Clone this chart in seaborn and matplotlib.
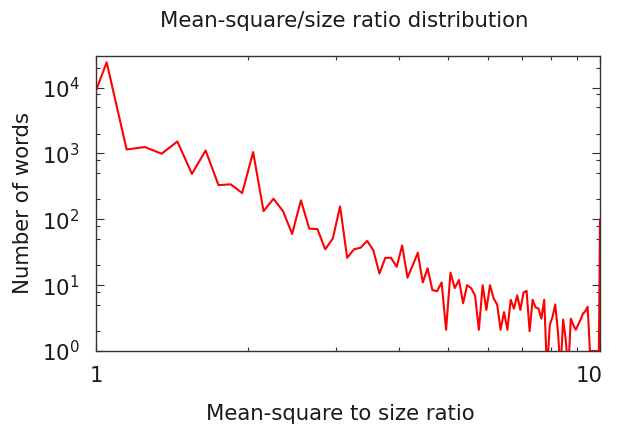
import matplotlib
matplotlib.use("Agg")
import matplotlib.pyplot as plt
import matplotlib.ticker as mticker
import matplotlib.transforms as mtransforms
import numpy as np
import pandas as pd
import seaborn as sns

# Histogram bin centres (mean-square / size ratio) and word counts per bin
ratio = [0.95, 1.05, 1.15, 1.25, 1.35, 1.45, 1.55, 1.65, 1.75, 1.85, 1.95,
         2.05, 2.15, 2.25, 2.35, 2.45, 2.55, 2.65, 2.75, 2.85, 2.95,
         3.05, 3.15, 3.25, 3.35, 3.45, 3.55, 3.65, 3.75, 3.85, 3.95,
         4.05, 4.15, 4.25, 4.35, 4.45, 4.55, 4.65, 4.75, 4.85, 4.95,
         5.05, 5.15, 5.25, 5.35, 5.45, 5.55, 5.65, 5.75, 5.85, 5.95,
         6.05, 6.15, 6.25, 6.35, 6.45, 6.55, 6.65, 6.75, 6.85, 6.95,
         7.05, 7.15, 7.25, 7.35, 7.45, 7.55, 7.65, 7.75, 7.85, 7.95,
         8.05, 8.15, 8.25, 8.35, 8.45, 8.55, 8.65, 8.75, 8.85, 8.95,
         9.05, 9.15, 9.25, 9.35, 9.45, 9.55, 9.65, 9.75, 9.85, 9.95,
         10.0]
words = [3200, 24200, 1150, 1250, 990, 1520, 490, 1110, 330, 340, 250,
         1050, 133, 205, 133, 60, 194, 72, 71, 35, 51,
         157, 26, 35, 37, 47, 34, 15, 26, 26, 19,
         40, 13, 20, 31, 11, 18, 8.4, 8.1, 11, 2.1,
         15.5, 9, 12, 5.3, 10, 9, 7, 2.1, 10, 4.2,
         10, 6.3, 5.1, 2.1, 3.9, 2.1, 6, 4.4, 7, 4.2,
         7.7, 8.2, 2, 6, 4.6, 4.4, 3.1, 6, 0.5, 2.5,
         3.3, 5.1, 2, 0.5, 3, 1.5, 0.5, 3.1, 2.5, 2.1,
         2.5, 3, 3.7, 4, 4.7, 1, 1, 1, 1, 1,
         100]

y_ticks = [1, 10, 100, 1000, 10000]
y_tick_labels = [r"$\mathregular{10^{0}}$", r"$\mathregular{10^{1}}$",
                 r"$\mathregular{10^{2}}$", r"$\mathregular{10^{3}}$",
                 r"$\mathregular{10^{4}}$"]
x_ticks = [1, 10]
x_tick_labels = ["1", "10"]

df = pd.DataFrame({"ratio": ratio, "words": words})

sns.set_style("ticks")
plt.rcParams["font.family"] = ["DejaVu Sans"]
plt.rcParams["mathtext.fontset"] = "dejavusans"

FS = 15.3
TXT = "#1a1a1a"

fig = plt.figure(figsize=(6.18, 4.28), dpi=100)
ax = fig.add_axes([96 / 618, 1 - 351 / 428, 504 / 618, 295.3 / 428])

sns.lineplot(data=df, x="ratio", y="words", color="#ff0000", linewidth=1.5,
             estimator=None, sort=False, ax=ax)

ax.set_xscale("log")
ax.set_yscale("log")
ax.set_xlim(1, 10)
ax.set_ylim(1, 30500)

ax.xaxis.set_major_locator(mticker.FixedLocator(x_ticks))
ax.xaxis.set_major_formatter(mticker.FixedFormatter(x_tick_labels))
ax.xaxis.set_minor_locator(mticker.LogLocator(base=10, subs=np.arange(2, 10)))
ax.xaxis.set_minor_formatter(mticker.NullFormatter())

ax.yaxis.set_major_locator(mticker.FixedLocator(y_ticks))
ax.yaxis.set_major_formatter(mticker.FixedFormatter(y_tick_labels))
ax.yaxis.set_minor_locator(mticker.LogLocator(base=10, subs=(2, 5, 8)))
ax.yaxis.set_minor_formatter(mticker.NullFormatter())

ax.tick_params(which="both", direction="in", top=True, right=True,
               color="#333333", width=0.8)
ax.tick_params(which="major", length=6, labelsize=FS, labelcolor=TXT)
ax.tick_params(axis="x", which="major", pad=11)
ax.tick_params(axis="y", which="major", pad=12)
ax.tick_params(which="minor", length=3)

for side in ("left", "right", "top", "bottom"):
    ax.spines[side].set_visible(True)
    ax.spines[side].set_color("#333333")
    ax.spines[side].set_linewidth(1.0)

ax.set_xlabel("")
ax.set_ylabel("")

# the right-hand "10" sits a little inside the frame edge
fig.canvas.draw()
last = ax.get_xticklabels()[-1]
last.set_transform(last.get_transform() +
                   mtransforms.ScaledTranslation(-11 / 100, 0, fig.dpi_scale_trans))

fig.text(344 / 618, 1 - 27.3 / 428, "Mean-square/size ratio distribution",
         ha="center", va="baseline", fontsize=FS, color=TXT)
fig.text(340 / 618, 1 - 420 / 428, "Mean-square to size ratio",
         ha="center", va="baseline", fontsize=FS, color=TXT)
fig.text(23 / 618, 1 - 203 / 428, "Number of words", rotation=90,
         ha="center", va="center", fontsize=FS, color=TXT)

fig.savefig("out.png", dpi=100, facecolor="white")
